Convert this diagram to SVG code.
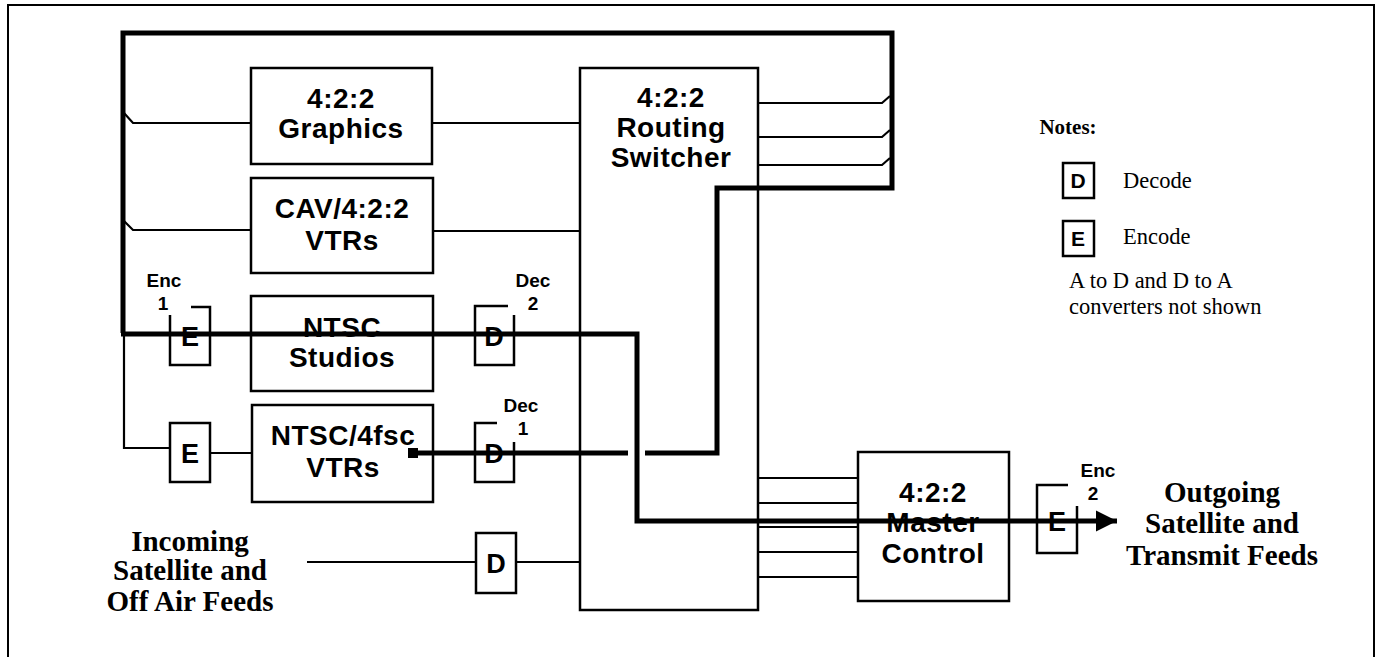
<svg xmlns="http://www.w3.org/2000/svg" width="1379" height="657" viewBox="0 0 1379 657">
<defs>
<style>
.frame{fill:none;stroke:#000;stroke-width:2}
.box{fill:#fff;stroke:#000;stroke-width:2.5}
.br{fill:none;stroke:#000;stroke-width:2.5}
.thin{fill:none;stroke:#000;stroke-width:2.2}
.thick{fill:none;stroke:#000;stroke-width:5}
.lbl{font-family:"Liberation Sans",Arial,sans-serif;font-weight:bold;font-size:28px;letter-spacing:0.5px;text-anchor:middle;fill:#000}
.let{font-family:"Liberation Sans",Arial,sans-serif;font-weight:bold;font-size:27px;text-anchor:middle;fill:#000}
.sm{font-family:"Liberation Sans",Arial,sans-serif;font-weight:bold;font-size:19px;text-anchor:middle;fill:#000}
.tb{font-family:"Liberation Serif","Times New Roman",serif;font-weight:bold;font-size:29px;text-anchor:middle;fill:#000}
.tn{font-family:"Liberation Serif","Times New Roman",serif;font-size:22.5px;fill:#000}
.nl{font-family:"Liberation Sans",Arial,sans-serif;font-weight:bold;font-size:21px;text-anchor:middle;fill:#000}
</style>
<marker id="arr" viewBox="0 0 10 10" refX="10" refY="5" markerWidth="4.2" markerHeight="4.6" orient="auto" markerUnits="strokeWidth">
<path d="M0,0 L10,5 L0,10 z" fill="#000"/>
</marker>
</defs>
<rect width="1379" height="657" fill="#fff"/>
<path class="frame" d="M8,660 V5 H1374 V660"/>

<g id="connectors">
<path class="thin" d="M124,113 L133,123 H251"/>
<path class="thin" d="M124,221 L133,230 H251"/>
<path class="thin" d="M432,123 H580"/>
<path class="thin" d="M433,231 H580"/>
<path class="thin" d="M124,333 V448 H170"/>
<path class="thin" d="M210,453 H252"/>
<path class="thin" d="M307,562 H476"/>
<path class="thin" d="M516,562 H580"/>
<path class="thin" d="M758,103 H882 L890,96"/>
<path class="thin" d="M758,137 H882 L890,130"/>
<path class="thin" d="M758,165 H882 L890,158"/>
<path class="thin" d="M758,478 H858"/>
<path class="thin" d="M758,503 H858"/>
<path class="thin" d="M758,527 H858"/>
<path class="thin" d="M758,552 H858"/>
<path class="thin" d="M758,577 H858"/>
</g>

<g id="routing-switcher">
<rect class="box" x="580" y="68" width="178" height="542"/>
<text class="lbl" x="671" y="107">4:2:2</text>
<text class="lbl" x="671" y="137">Routing</text>
<text class="lbl" x="671" y="167">Switcher</text>
</g>

<g id="graphics">
<rect class="box" x="251" y="68" width="181" height="96"/>
<text class="lbl" x="341" y="108">4:2:2</text>
<text class="lbl" x="341" y="138">Graphics</text>
</g>

<g id="cav-vtrs">
<rect class="box" x="251" y="178" width="182" height="95"/>
<text class="lbl" x="342" y="218">CAV/4:2:2</text>
<text class="lbl" x="342" y="250">VTRs</text>
</g>

<g id="ntsc-studios">
<rect class="box" x="251" y="296" width="182" height="95"/>
<text class="lbl" x="342" y="337">NTSC</text>
<text class="lbl" x="342" y="367">Studios</text>
</g>

<g id="ntsc-vtrs">
<rect class="box" x="252" y="405" width="181" height="97"/>
<text class="lbl" x="343" y="445">NTSC/4fsc</text>
<text class="lbl" x="343" y="477">VTRs</text>
</g>

<g id="enc1">
<path class="br" d="M191,307 H210 V365 H170 V315"/>
<text class="let" x="190" y="346">E</text>
<text class="sm" x="164" y="287">Enc</text>
<text class="sm" x="163" y="310">1</text>
</g>

<g id="enc-vtr">
<rect class="box" x="170" y="423" width="40" height="59"/>
<text class="let" x="190" y="463">E</text>
</g>

<g id="dec2">
<path class="br" d="M508,306 H475 V365 H514 V315"/>
<text class="let" x="494" y="346">D</text>
<text class="sm" x="533" y="287">Dec</text>
<text class="sm" x="533" y="310">2</text>
</g>

<g id="dec1">
<path class="br" d="M497,423 H475 V482 H514 V442"/>
<text class="let" x="494" y="463">D</text>
<text class="sm" x="521" y="412">Dec</text>
<text class="sm" x="523" y="435">1</text>
</g>

<g id="dec-incoming">
<rect class="box" x="476" y="533" width="40" height="60"/>
<text class="let" x="496" y="573">D</text>
</g>

<g id="master-control">
<rect class="box" x="858" y="452" width="151" height="149"/>
<text class="lbl" x="933" y="502">4:2:2</text>
<text class="lbl" x="933" y="532">Master</text>
<text class="lbl" x="933" y="563">Control</text>
</g>

<g id="enc2">
<path class="br" d="M1068,485 H1037 V553 H1077 V506"/>
<text class="let" x="1057" y="531">E</text>
<text class="sm" x="1098" y="477">Enc</text>
<text class="sm" x="1093" y="500">2</text>
</g>

<g id="thick-paths">
<path class="thick" d="M123,333 V33 H892 V188 H717 V453 H645"/>
<path class="thick" d="M628,453 H414"/>
<rect x="408" y="448" width="10" height="10" fill="#000"/>
<path class="thick" d="M121,334 H637 V521 H1117" marker-end="url(#arr)"/>
</g>

<g id="incoming-label">
<text class="tb" x="190" y="551">Incoming</text>
<text class="tb" x="190" y="580">Satellite and</text>
<text class="tb" x="190" y="611">Off Air Feeds</text>
</g>

<g id="outgoing-label">
<text class="tb" x="1222" y="502">Outgoing</text>
<text class="tb" x="1222" y="533">Satellite and</text>
<text class="tb" x="1222" y="565">Transmit Feeds</text>
</g>

<g id="notes">
<text class="tb" x="1068" y="134" style="font-size:21px">Notes:</text>
<rect class="box" x="1063" y="163" width="31" height="35"/>
<text class="nl" x="1078" y="188">D</text>
<text class="tn" x="1123" y="188">Decode</text>
<rect class="box" x="1063" y="221" width="31" height="35"/>
<text class="nl" x="1078" y="246">E</text>
<text class="tn" x="1123" y="244">Encode</text>
<text class="tn" x="1069" y="288">A to D and D to A</text>
<text class="tn" x="1069" y="314">converters not shown</text>
</g>
</svg>
